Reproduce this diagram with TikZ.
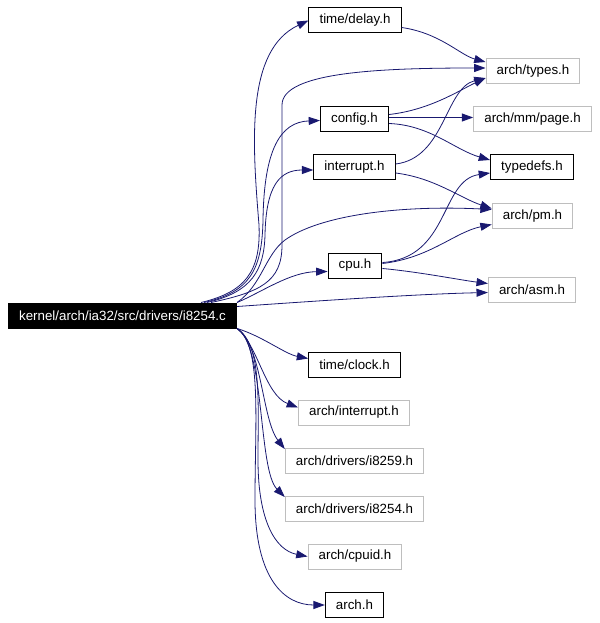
\documentclass[tikz,border=0pt]{standalone}
\usepackage{fontspec}
\setmainfont{Liberation Sans}
\usepackage{tikz}
\usetikzlibrary{arrows.meta, calc}
\definecolor{edgeblue}{RGB}{25,25,112}
\definecolor{extgray}{RGB}{190,190,190}
\tikzset{
  docfile/.style={rectangle, draw=black, fill=white, line width=0.75pt,
    inner xsep=8pt, inner ysep=2pt, minimum height=18.75pt},
  extfile/.style={rectangle, draw=extgray, fill=white, line width=0.75pt,
    inner xsep=8pt, inner ysep=2pt, minimum height=18.75pt},
  mainfile/.style={rectangle, draw=black, fill=black, text=white,
    line width=0.75pt, inner xsep=8pt, inner ysep=2pt, minimum height=18.75pt},
  incarrow/.style={-{Triangle[length=8.5pt,width=6pt]}, line width=0.6pt,
    color=edgeblue}
}
\begin{document}
\begin{tikzpicture}[x=0.75pt,y=-0.75pt]
  \useasboundingbox (0,0) rectangle (599,623);
  % included files, left column
  \node[mainfile] (main) at (122.5,315.5) {kernel/arch/ia32/src/drivers/i8254.c};
  \node[docfile] (delay) at (355,20.5) {time/delay.h};
  \node[docfile] (config) at (354.5,119.5) {config.h};
  \node[docfile] (interrupt) at (354.5,167) {interrupt.h};
  \node[docfile] (cpu) at (355,265.5) {cpu.h};
  \node[docfile] (clock) at (354.5,364.5) {time/clock.h};
  \node[extfile] (archint) at (354,412.5) {arch/interrupt.h};
  \node[extfile] (i8259) at (354.5,461) {arch/drivers/i8259.h};
  \node[extfile] (i8254) at (354.5,509) {arch/drivers/i8254.h};
  \node[extfile] (cpuid) at (355,556.5) {arch/cpuid.h};
  \node[docfile] (archh) at (354.5,605) {arch.h};
  % right column
  \node[extfile] (types) at (533,71) {arch/types.h};
  \node[extfile] (page) at (532.5,119.5) {arch/mm/page.h};
  \node[docfile] (typedefs) at (532,167) {typedefs.h};
  \node[extfile] (pm) at (532.5,216.5) {arch/pm.h};
  \node[extfile] (asm) at (532,289.5) {arch/asm.h};

  % edges from the source file upwards
  \draw[incarrow] ($(main.north east)+(-36,0)$) .. controls (245,292) and (261,272) .. (259,225)
    .. controls (252,140) and (246,50) .. (delay.west);
  \draw[incarrow] ($(main.north east)+(-26,0)$) .. controls (260,292) and (282,282) .. (282,245)
    -- (282,105) .. controls (282,72) and (380,68) .. ($(types.west)+(0,-3)$);
  \draw[incarrow] ($(main.north east)+(-33,0)$) .. controls (250,292) and (262,270) .. (263,220)
    .. controls (264,150) and (280,122) .. ($(config.west)+(0,1)$);
  \draw[incarrow] ($(main.north east)+(-30,0)$) .. controls (252,292) and (264,270) .. (265,235)
    .. controls (266,185) and (280,170) .. ($(interrupt.west)+(0,3)$);
  \draw[incarrow] (main.north east) .. controls (262,285) and (265,255) .. (285,240)
    .. controls (320,215) and (400,205) .. ($(pm.west)+(0,-7)$);
  \draw[incarrow] (main.north east) .. controls (262,292) and (290,272) .. ($(cpu.west)+(0,6)$);
  \draw[incarrow] ($(main.north east)+(0,4)$) .. controls (330,300) and (420,294) .. ($(asm.west)+(0,3)$);

  % edges from the source file downwards
  \draw[incarrow] (main.south east) .. controls (262,336) and (285,354) .. ($(clock.west)+(0,-6)$);
  \draw[incarrow] (main.south east) .. controls (258,345) and (265,395) .. ($(archint.west)+(0,-5)$);
  \draw[incarrow] (main.south east) .. controls (262,345) and (262,420) .. ($(i8259.west)+(0,-12)$);
  \draw[incarrow] (main.south east) .. controls (265,345) and (258,470) .. ($(i8254.west)+(0,-12)$);
  \draw[incarrow] (main.south east) .. controls (262,345) and (258,400) .. (258,460)
    .. controls (258,520) and (275,550) .. (cpuid.west);
  \draw[incarrow] (main.south east) .. controls (262,345) and (255,420) .. (255,500)
    .. controls (255,580) and (285,605) .. (archh.west);

  % second level includes
  \draw[incarrow] ($(delay.east)+(0,7)$) .. controls (440,33) and (460,55) .. ($(types.west)+(0,-9)$);
  \draw[incarrow] ($(config.east)+(0,-5)$) .. controls (430,110) and (460,90) .. ($(types.west)+(0,7)$);
  \draw[incarrow] ($(config.east)+(0,-2)$) -- ($(page.west)+(0,-2)$);
  \draw[incarrow] ($(config.east)+(0,4)$) .. controls (430,125) and (455,150) .. ($(typedefs.west)+(0,-7)$);
  \draw[incarrow] ($(interrupt.east)+(0,-3)$) .. controls (445,158) and (445,88) .. ($(types.west)+(0,7)$);
  \draw[incarrow] ($(interrupt.east)+(0,6)$) .. controls (435,178) and (460,198) .. ($(pm.west)+(0,-8)$);
  \draw[incarrow] ($(cpu.east)+(0,-3)$) .. controls (450,258) and (440,180) .. ($(typedefs.west)+(0,6)$);
  \draw[incarrow] ($(cpu.east)+(0,-2)$) .. controls (430,258) and (455,232) .. ($(pm.west)+(0,8)$);
  \draw[incarrow] ($(cpu.east)+(0,3)$) .. controls (420,272) and (460,280) .. ($(asm.west)+(0,-6)$);
\end{tikzpicture}
\end{document}
